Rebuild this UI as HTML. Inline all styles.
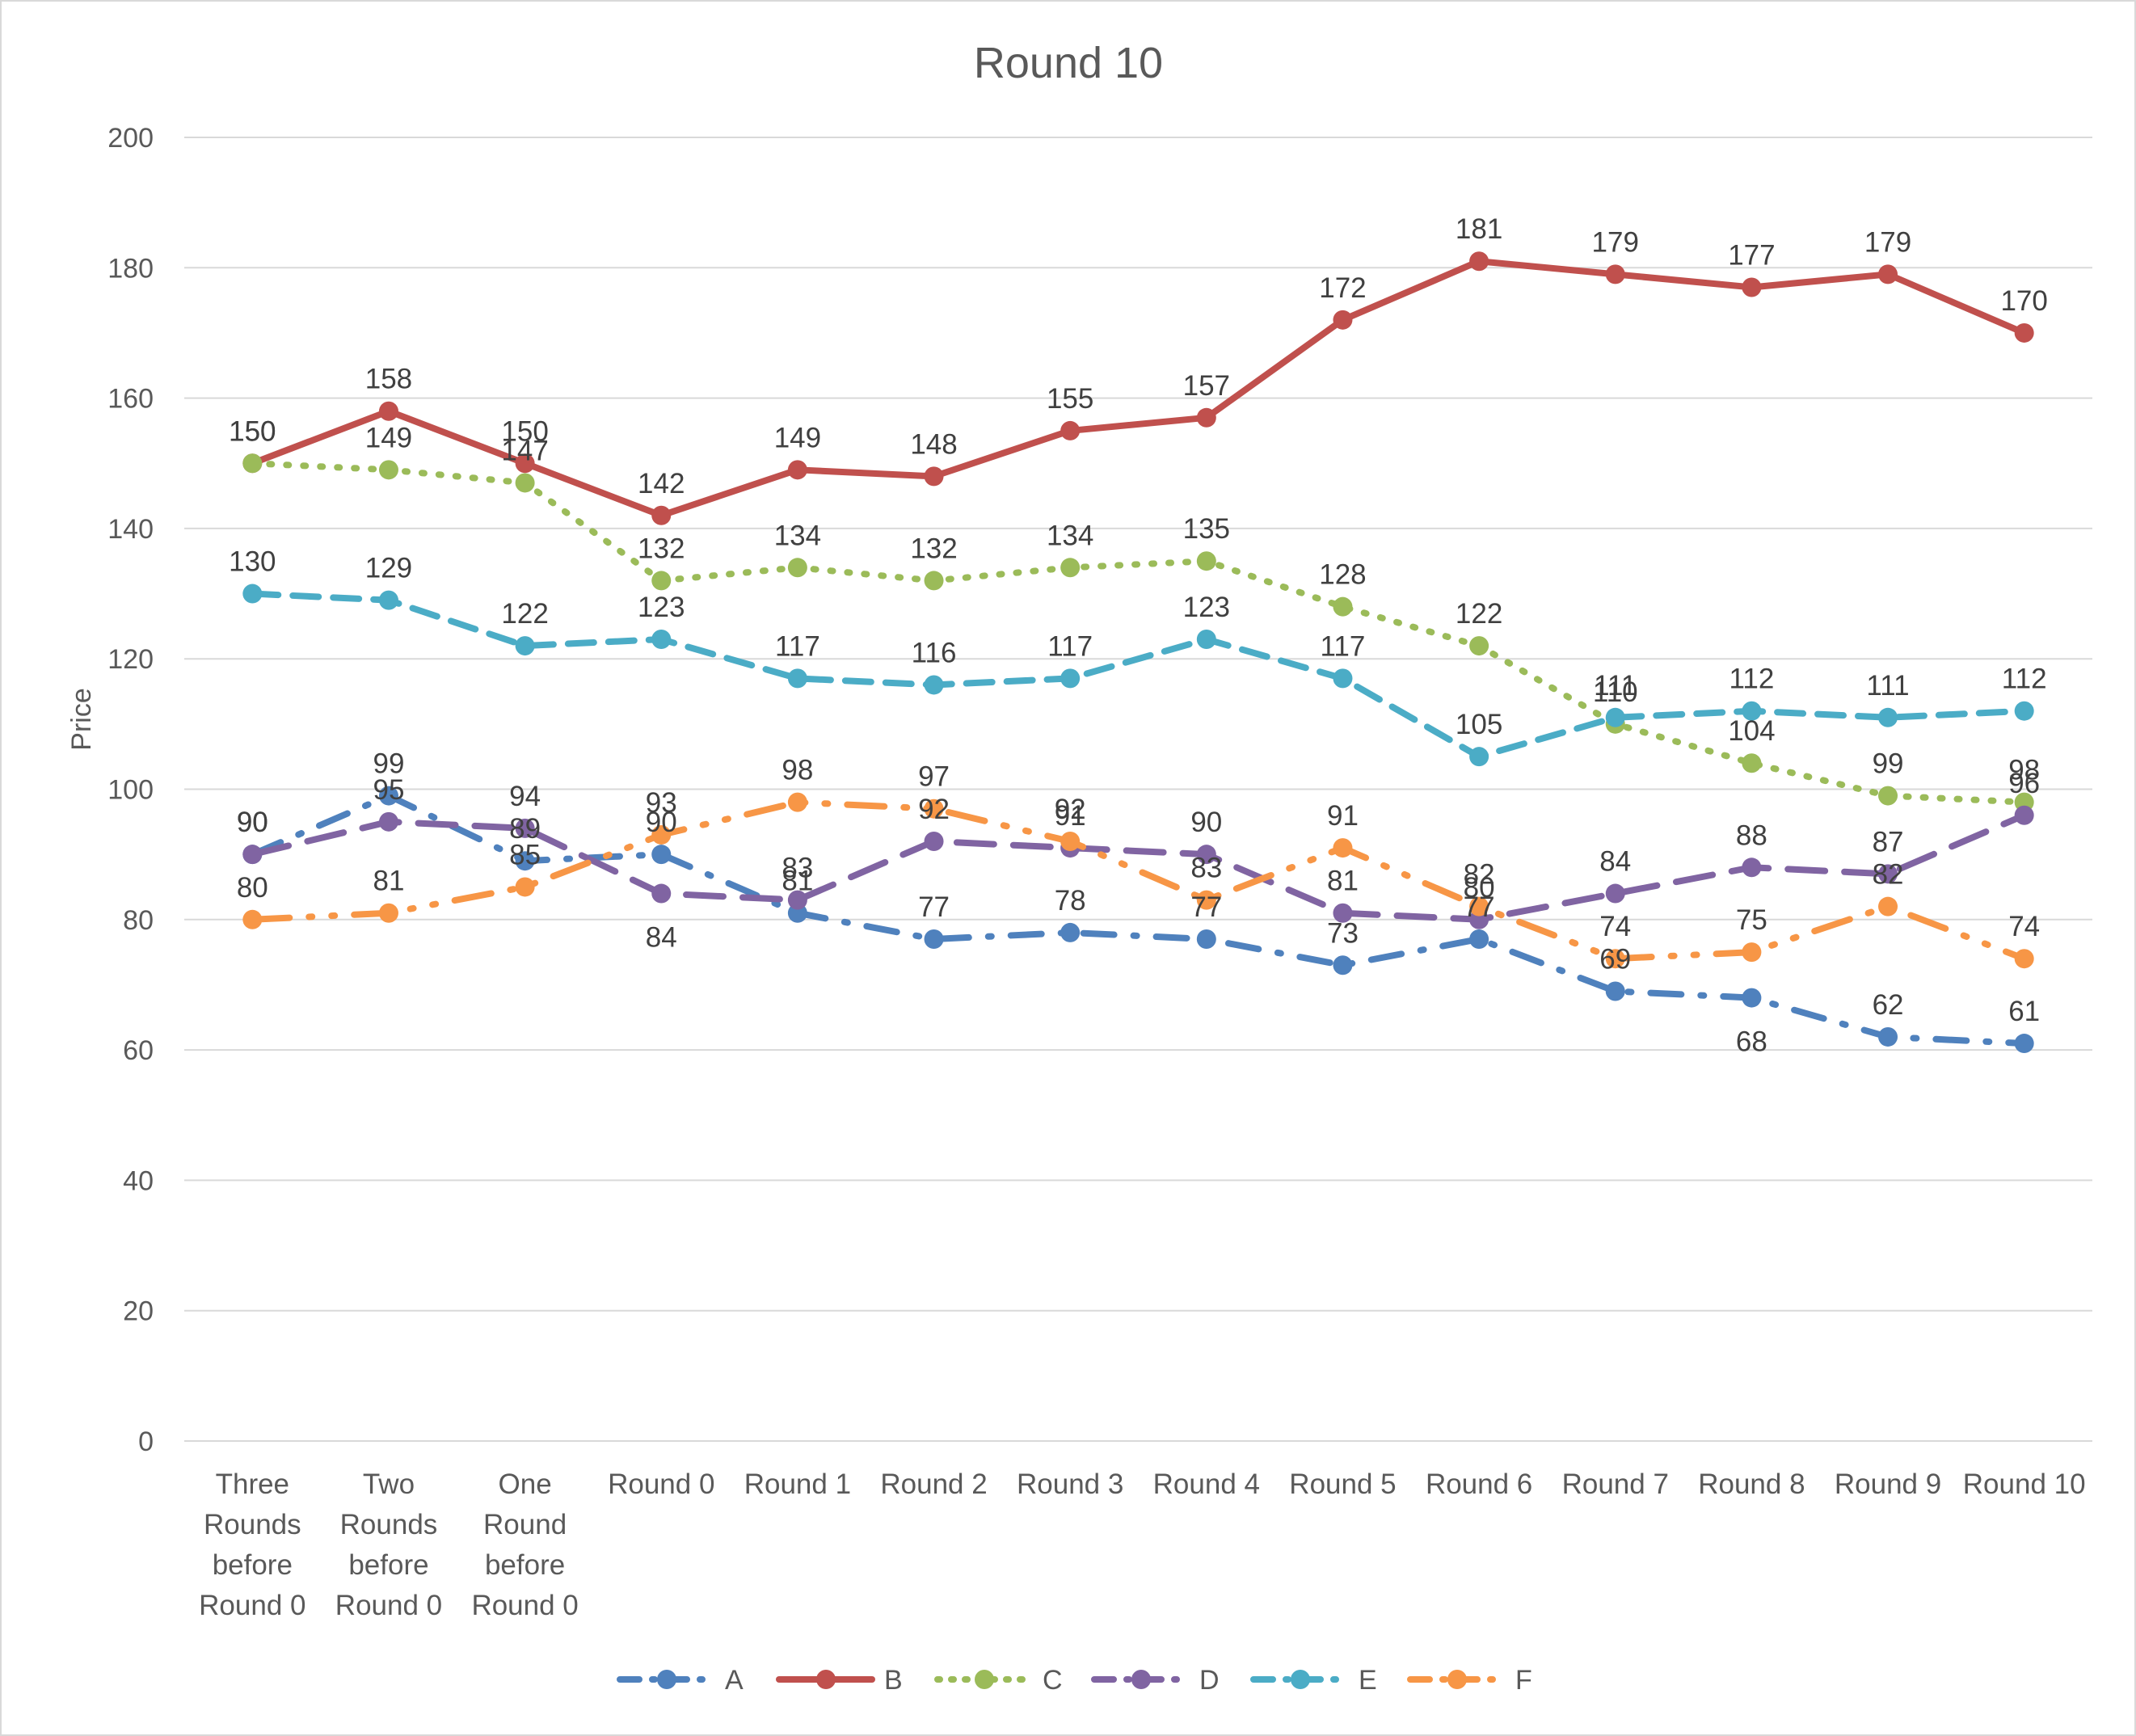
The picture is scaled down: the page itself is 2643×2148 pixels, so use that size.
<!DOCTYPE html>
<html><head><meta charset="utf-8"><style>
html,body{margin:0;padding:0;background:#fff}
svg{display:block;font-family:"Liberation Sans",sans-serif}
</style></head><body>
<svg id="chart" width="2643" height="2148" viewBox="0 0 2643 2148">
<rect x="1" y="1" width="2641" height="2146" fill="#fff" stroke="#d9d9d9" stroke-width="2"/>
<text x="1322" y="96" font-size="54" fill="#595959" text-anchor="middle">Round 10</text>
<text transform="translate(112,890) rotate(-90)" font-size="34" fill="#595959" text-anchor="middle">Price</text>
<g id="grid"></g><g id="series"></g><g id="labels"></g><g id="legend"></g>
</svg>
<script>
const categories=[["Three","Rounds","before","Round 0"],["Two","Rounds","before","Round 0"],["One","Round","before","Round 0"],["Round 0"],["Round 1"],["Round 2"],["Round 3"],["Round 4"],["Round 5"],["Round 6"],["Round 7"],["Round 8"],["Round 9"],["Round 10"]];
const yTicks=[0,20,40,60,80,100,120,140,160,180,200];
const seriesNames=["A","B","C","D","E","F"];
const valuesA=[90,99,89,90,81,77,78,77,73,77,69,68,62,61];
const valuesB=[150,158,150,142,149,148,155,157,172,181,179,177,179,170];
const valuesC=[150,149,147,132,134,132,134,135,128,122,110,104,99,98];
const valuesD=[90,95,94,84,83,92,91,90,81,80,84,88,87,96];
const valuesE=[130,129,122,123,117,116,117,123,117,105,111,112,111,112];
const valuesF=[80,81,85,93,98,97,92,83,91,82,74,75,82,74];
const allValues=[valuesA,valuesB,valuesC,valuesD,valuesE,valuesF];
const colors=["#4f81bd","#c0504d","#9bbb59","#8064a2","#4bacc6","#f79646"];
const dashes=["38 24 4 24","","3 18","46 24","32 18","46 24 4 24 4 24"];
const NS="http://www.w3.org/2000/svg";
const X0=228,X1=2589,Y0=1783,Y1=170;
const step=(X1-X0)/categories.length;
const xs=i=>X0+step*(i+0.5);
const ys=v=>Y0-(v-0)/(200-0)*(Y0-Y1);
function mk(tag,attrs,parent){const e=document.createElementNS(NS,tag);for(const k in attrs)e.setAttribute(k,attrs[k]);parent.appendChild(e);return e;}
const grid=document.getElementById('grid');
yTicks.forEach(t=>{
 const l=mk('line',{x1:X0,x2:X1,y1:ys(t),y2:ys(t),stroke:'#d9d9d9','stroke-width':2},grid);
 
 
 const tx=mk('text',{x:190,y:ys(t)+12,'font-size':34,fill:'#595959','text-anchor':'end'},grid);
 tx.textContent=t;
 
 
});
categories.forEach((c,i)=>{
 const tx=mk('text',{x:xs(i),y:1848,'font-size':35,fill:'#595959','text-anchor':'middle'},grid);
 
 
 c.forEach((ln,j)=>{const ts=mk('tspan',{x:xs(i),dy:j?50:0},tx);ts.textContent=ln;});
});
const sg=document.getElementById('series'),lg=document.getElementById('labels');
allValues.forEach((vals,s)=>{
 const g=mk('g',{},sg);
 
 
 const p=mk('polyline',{points:vals.map((v,i)=>xs(i)+','+ys(v)).join(' '),fill:'none',stroke:colors[s],'stroke-width':8,'stroke-linecap':'round','stroke-linejoin':'round'},g);
 if(dashes[s])p.setAttribute('stroke-dasharray',dashes[s]);
 
 
 vals.forEach((v,i)=>{
  const c=mk('circle',{cx:xs(i),cy:ys(v),r:12,fill:colors[s]},g);
  
  
  const below=(s===3&&i===3)||(s===0&&i===11);
  const t=mk('text',{x:xs(i),y:below?ys(v)+66:ys(v)-28,'font-size':35,fill:'#404040','text-anchor':'middle'},lg);
  t.textContent=Math.round(v);
  
  
 });
});
const leg=document.getElementById('legend');
const lx=[767,964,1160,1354,1551,1745];
seriesNames.forEach((n,s)=>{
 const g=mk('g',{},leg);
 
 
 const l=mk('line',{x1:lx[s],x2:lx[s]+115,y1:2078,y2:2078,stroke:colors[s],'stroke-width':8,'stroke-linecap':'round'},g);
 if(dashes[s])l.setAttribute('stroke-dasharray',s===2?'3 14':'24 16 3 16');
 mk('circle',{cx:lx[s]+58,cy:2078,r:12,fill:colors[s]},g);
 const t=mk('text',{x:lx[s]+130,y:2090,'font-size':34,fill:'#595959'},g);
 t.textContent=n;
});
</script>
</body></html>
